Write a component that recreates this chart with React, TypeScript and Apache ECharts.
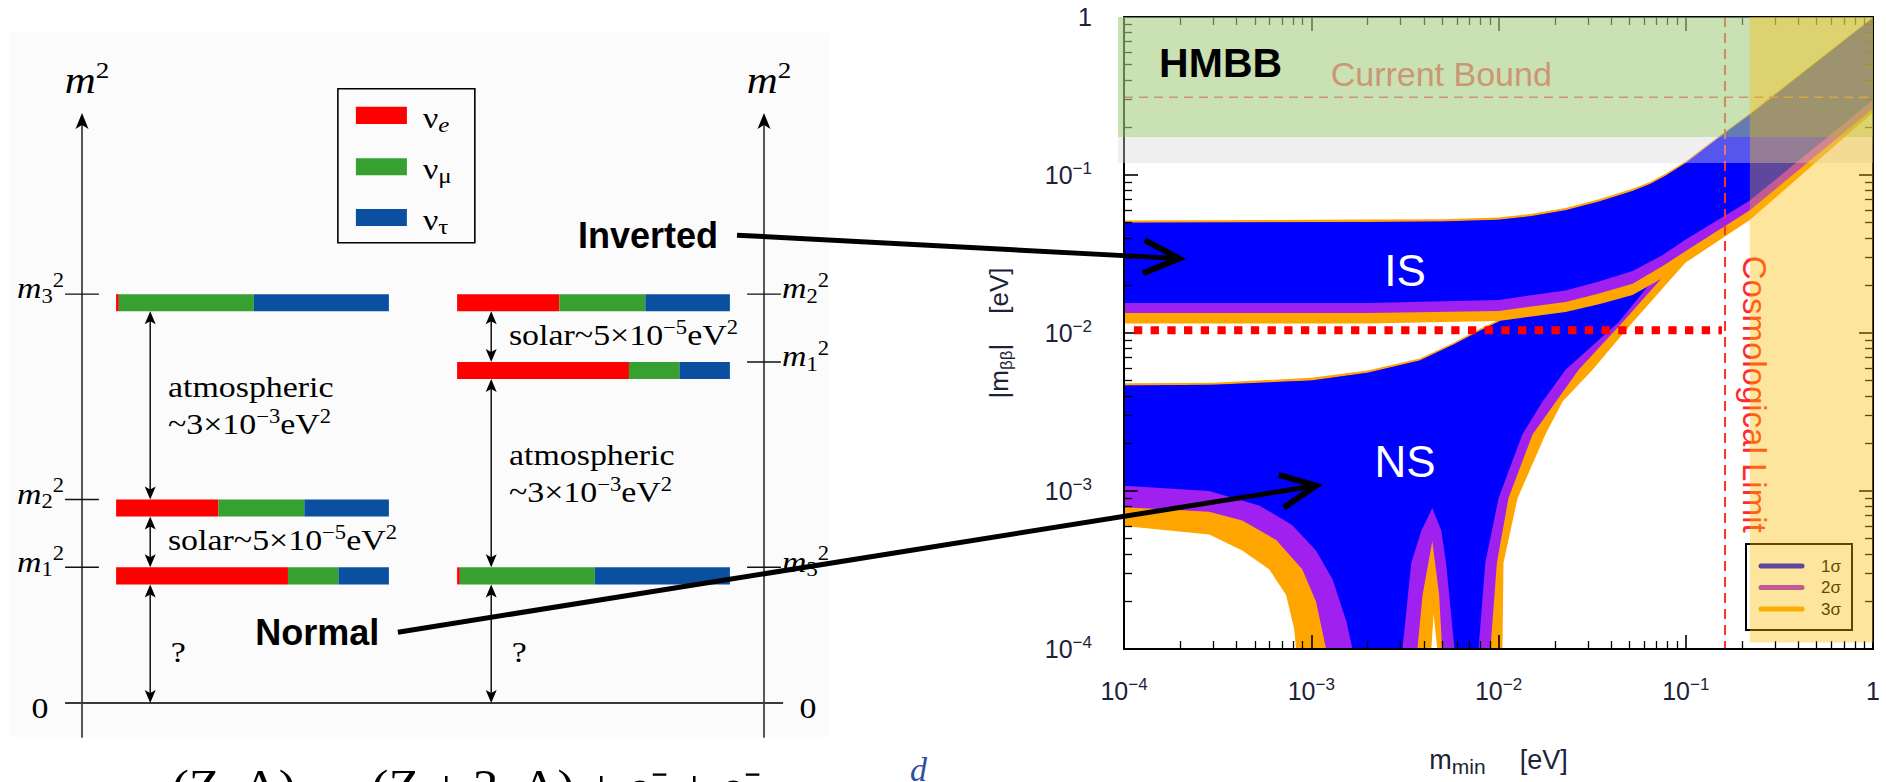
import React, { useEffect, useRef } from 'react';
import * as echarts from 'echarts';

const WIDTH = 1886;
const HEIGHT = 782;
const SANS = "'Liberation Sans', Arial, Helvetica, sans-serif";
const SERIF = "'Liberation Serif', 'Times New Roman', Times, serif";
const AXIS_TEXT = '#1c2238';

// ---------------------------------------------------------------------------
// Right panel: effective Majorana mass |m_ββ| against the lightest mass m_min
// ---------------------------------------------------------------------------
const M_MIN = 1e-4;
const M_MAX = 1;

// Inverted spectrum (IS) band edges, [m_min, |m_ββ|] in eV
const isUpper = [[1e-4, 0.0498], [2e-3, 0.0505], [5e-3, 0.0508], [0.01, 0.052], [0.0151, 0.055], [0.0228, 0.0598], [0.0345, 0.068], [0.052, 0.0793], [0.065, 0.088], [0.078, 0.099], [0.1, 0.119], [0.15, 0.172], [0.22, 0.241], [1, 0.986]];
const isUpper3s = [[1e-4, 0.0515], [2e-3, 0.0522], [5e-3, 0.0525], [0.01, 0.0538], [0.0151, 0.0568], [0.0228, 0.0618], [0.0345, 0.0702], [0.052, 0.0818], [0.065, 0.0905], [0.078, 0.102], [0.1, 0.122], [0.15, 0.176], [0.22, 0.246], [1, 1]];
const isLower1s = [[1e-4, 0.0155], [2e-3, 0.0155], [0.01, 0.0162], [0.0228, 0.0186], [0.0344, 0.0212], [0.052, 0.0247], [0.075, 0.031], [0.1, 0.039], [0.22, 0.069], [1, 0.298]];
const isLower2s = [[1e-4, 0.0134], [2e-3, 0.0134], [0.01, 0.0138], [0.0228, 0.0157], [0.0344, 0.0178], [0.052, 0.0205], [0.075, 0.0265], [0.1, 0.033], [0.22, 0.0598], [1, 0.263]];
const isLower3s = [[1e-4, 0.0115], [2e-3, 0.0115], [0.01, 0.0119], [0.0228, 0.0136], [0.0344, 0.0152], [0.052, 0.0174], [0.075, 0.0222], [0.1, 0.028], [0.22, 0.052], [1, 0.25]];

// Normal spectrum (NS) band edges
const nsUpper = [[1e-4, 0.00465], [3e-4, 0.0047], [1e-3, 0.005], [2e-3, 0.0056], [3.8e-3, 0.0067], [5.8e-3, 0.0085], [7.9e-3, 0.0103], [0.01, 0.0118], [0.02, 0.021], [0.05, 0.05], [0.1, 0.1], [0.22, 0.22], [1, 0.98]];
const nsUpper3s = [[1e-4, 0.0048], [3e-4, 0.00485], [1e-3, 0.0052], [2e-3, 0.0058], [3.8e-3, 0.0069], [5.8e-3, 0.0087], [7.9e-3, 0.0106], [0.01, 0.0121], [0.02, 0.021], [0.05, 0.05], [0.1, 0.1], [0.22, 0.22], [1, 0.98]];
const nsLower1s = [[1e-4, 0.00108], [2.85e-4, 0.001], [5.27e-4, 0.00081], [7.9e-4, 0.00061], [1.06e-3, 0.00042], [1.3e-3, 0.000275], [1.54e-3, 0.00015], [1.66e-3, 1e-4], [3.07e-3, 1e-4], [3.42e-3, 0.00035], [3.87e-3, 0.00056], [4.43e-3, 0.00078], [4.95e-3, 0.00056], [5.25e-3, 0.00035], [5.82e-3, 1e-4], [7.82e-3, 1e-4], [8.5e-3, 0.00035], [0.01, 0.0009], [0.0134, 0.00228], [0.0172, 0.00368], [0.0228, 0.00586], [0.0438, 0.0117], [0.1, 0.039], [0.22, 0.069], [1, 0.298]];
const nsLower2s = [[1e-4, 0.00079], [2.85e-4, 0.00074], [4.28e-4, 0.00065], [6.5e-4, 0.00049], [8.95e-4, 0.00032], [1.06e-3, 0.0002], [1.2e-3, 1e-4], [3.69e-3, 1e-4], [3.93e-3, 0.00022], [4.43e-3, 0.00048], [4.82e-3, 0.00022], [5.0e-3, 1e-4], [9.06e-3, 1e-4], [9.8e-3, 0.00035], [0.0113, 0.0009], [0.0152, 0.00228], [0.0268, 0.00586], [0.046, 0.0117], [0.1, 0.033], [0.22, 0.0598], [1, 0.263]];
const nsLower3s = [[1e-4, 0.0006], [2.85e-4, 0.00053], [4.28e-4, 0.00042], [5.96e-4, 0.00032], [7.34e-4, 0.00022], [8.1e-4, 0.000135], [8.3e-4, 1e-4], [4.38e-3, 1e-4], [4.5e-3, 0.000166], [4.71e-3, 1e-4], [0.0105, 1e-4], [0.01063, 0.00035], [0.01264, 0.0009], [0.0178, 0.00228], [0.022, 0.00368], [0.0318, 0.00586], [0.0521, 0.0117], [0.1, 0.028], [0.22, 0.052], [1, 0.25]];

const sigmaLabels = ['1σ', '2σ', '3σ'];
const SIGMA_COLORS = ['#0000ff', '#a020f0', '#ffa500'];

// limits and guide values (eV)
const hmbbBand = [0.174, 1];
const hmbbEdge = [0.119, 0.174];
const currentBound = 0.31;
const cosmoLimit = 0.162;
const cosmoBandX = [0.22, 1];
const cosmoBandY = [1.1e-4, 1];
const sensitivity = 0.0104;
const sensitivityRange = [1.13e-4, 0.156];

// annotation anchors in data space [m_min, |m_ββ|]
const labelIS = [3.17e-3, 0.025];
const labelNS = [3.17e-3, 1.54e-3];
const labelHMBB = [1.54e-4, 0.51];
const labelBound = [1.27e-3, 0.433];
const labelCosmo = [0.232, 4.1e-3];

// drawing order: 3σ, 2σ, 1σ of the normal spectrum, then the inverted one
const bandLayers = [
  { upper: nsUpper3s, lower: nsLower3s, color: SIGMA_COLORS[2] },
  { upper: nsUpper, lower: nsLower2s, color: SIGMA_COLORS[1] },
  { upper: nsUpper, lower: nsLower1s, color: SIGMA_COLORS[0] },
  { upper: isUpper3s, lower: isLower3s, color: SIGMA_COLORS[2] },
  { upper: isUpper, lower: isLower2s, color: SIGMA_COLORS[1] },
  { upper: isUpper, lower: isLower1s, color: SIGMA_COLORS[0] },
];

// ---------------------------------------------------------------------------
// Left panel: level scheme of the two mass orderings
// ---------------------------------------------------------------------------
const flavourNames = ['e', 'μ', 'τ'];
const flavourItalic = [true, false, false];
const FLAVOUR_COLORS = ['#ff0000', '#36a030', '#0b50a0'];
const nueShare = [0.63, 0.375, 0.01]; // |U_e i|^2 for i = 1, 2, 3
const numuShare = [0.185, 0.315, 0.495];
const nutauShare = [0.185, 0.31, 0.495];
const normalLevels = [2.3, 3.45, 6.93]; // schematic m_i^2 (bar tops)
const invertedLevels = [5.78, 6.93, 2.3];
const BAR_H = 0.29;

// pointers from the ordering names to the bands
const pointers = [
  { from: [2.276, 7.93], to: [1.97e-4, 0.0296] },
  { from: [1.033, 1.2], to: [1.06e-3, 1.08e-3] },
];

const powerOfTen = (v: number) => {
  const e = Math.round(Math.log10(v));
  return e === 0 ? '{n|1}' : `{n|10}{s|−${-e}}`;
};
const tickRich = {
  n: { fontSize: 25, fontFamily: SANS, color: AXIS_TEXT, lineHeight: 30 },
  s: { fontSize: 17, fontFamily: SANS, color: AXIS_TEXT, lineHeight: 17, verticalAlign: 'top' },
};

function logAxis(position: string, withLabels: boolean, extra: any = {}) {
  return {
    type: 'log',
    logBase: 10,
    gridIndex: 0,
    min: M_MIN,
    max: M_MAX,
    splitNumber: 4,
    position,
    z: 3,
    axisLine: { show: true, onZero: false, lineStyle: { color: '#000', width: 2 } },
    axisTick: { show: true, inside: true, length: 14, lineStyle: { color: '#000', width: 1.6 } },
    minorTick: { show: true, splitNumber: 9, length: 8, lineStyle: { color: '#000', width: 1.3 } },
    splitLine: { show: false },
    minorSplitLine: { show: false },
    axisLabel: withLabels
      ? { show: true, formatter: powerOfTen, rich: tickRich, showMinLabel: true, showMaxLabel: true, ...(extra.axisLabel || {}) }
      : { show: false },
    ...(extra.rest || {}),
  };
}

const serifRich = {
  t: { fontSize: 30, fontFamily: SERIF, lineHeight: 34 },
  p: { fontSize: 20, fontFamily: SERIF, lineHeight: 20, verticalAlign: 'top' },
  mi: { fontSize: 30, fontFamily: SERIF, fontStyle: 'italic', lineHeight: 36 },
  sb: { fontSize: 20, fontFamily: SERIF, lineHeight: 20, verticalAlign: 'bottom' },
  sp: { fontSize: 20, fontFamily: SERIF, lineHeight: 20, verticalAlign: 'top' },
  big: { fontSize: 38, fontFamily: SERIF, fontStyle: 'italic', lineHeight: 44 },
  bigp: { fontSize: 24, fontFamily: SERIF, lineHeight: 24, verticalAlign: 'top' },
  nu: { fontSize: 30, fontFamily: SERIF, lineHeight: 36 },
  fl: { fontSize: 22, fontFamily: SERIF, lineHeight: 22, verticalAlign: 'bottom' },
  fli: { fontSize: 22, fontFamily: SERIF, fontStyle: 'italic', lineHeight: 22, verticalAlign: 'bottom' },
};

function serifText(pt: number[], text: string, align: string, dy = 0, extra: any = {}) {
  return {
    type: 'text',
    x: pt[0],
    y: pt[1] + dy,
    scaleX: 1.13,
    style: { text, rich: serifRich, fill: '#000', fontFamily: SERIF, fontSize: 30, align, verticalAlign: 'middle', ...extra },
  };
}

function arrowHead(tip: number[], dir: number[], L: number, W: number, notch: number) {
  const [dx, dy] = dir;
  const px = -dy;
  const py = dx;
  return {
    type: 'polygon',
    shape: {
      points: [
        tip,
        [tip[0] - L * dx + W * px, tip[1] - L * dy + W * py],
        [tip[0] - (L - notch) * dx, tip[1] - (L - notch) * dy],
        [tip[0] - L * dx - W * px, tip[1] - L * dy - W * py],
      ],
    },
    style: { fill: '#000' },
  };
}

function segment(a: number[], b: number[], stroke: string, lineWidth: number, extra: any = {}) {
  return { type: 'line', shape: { x1: a[0], y1: a[1], x2: b[0], y2: b[1] }, style: { stroke, lineWidth, ...extra } };
}

function renderScheme(params: any, api: any) {
  const P = (u: number, v: number) => api.coord([u, v]);
  const kids: any[] = [];
  const bgA = P(-0.389, 11.36);
  const bgB = P(2.613, -0.576);
  kids.push({ type: 'rect', shape: { x: bgA[0], y: bgA[1], width: bgB[0] - bgA[0], height: bgB[1] - bgA[1] }, style: { fill: '#fbfbfb' } });

  // m^2 axes with arrow heads
  [-0.125, 2.375].forEach((u) => {
    const top = P(u, 10);
    const bottom = P(u, -0.59);
    kids.push(segment([top[0], top[1] + 10], bottom, '#111', 1.4));
    kids.push(arrowHead(top, [0, -1], 16, 6.5, 4));
    kids.push(serifText(P(u + 0.018, 10.56), '{big|m}{bigp|2}', 'center'));
  });
  // zero line
  kids.push(segment(P(-0.187, 0), P(2.445, 0), '#3a3a3a', 2));
  kids.push(serifText(P(-0.279, -0.085), '{t|0}', 'center'));
  kids.push(serifText(P(2.536, -0.085), '{t|0}', 'center'));

  const shares = [nueShare, numuShare, nutauShare];
  const orderings = [
    { levels: normalLevels, offset: 0, axisU: -0.125, side: -1 },
    { levels: invertedLevels, offset: 1.25, axisU: 2.375, side: 1 },
  ];
  orderings.forEach((ord) => {
    ord.levels.forEach((lv, i) => {
      let acc = 0;
      shares.forEach((share, f) => {
        const a = P(ord.offset + acc, lv);
        const b = P(ord.offset + acc + share[i], lv - BAR_H);
        kids.push({ type: 'rect', shape: { x: a[0], y: a[1], width: b[0] - a[0], height: b[1] - a[1] }, style: { fill: FLAVOUR_COLORS[f] } });
        acc += share[i];
      });
      // level tick crossing the axis and its label
      kids.push(segment(P(ord.axisU - 0.062, lv), P(ord.axisU + 0.062, lv), '#111', 1.4));
      const lab = `{mi|m}{sb|${i + 1}}{sp|2}`;
      kids.push(serifText(P(ord.axisU + ord.side * 0.066, lv), lab, ord.side < 0 ? 'right' : 'left', -6));
    });

    // splittings between neighbouring levels, and down to zero
    const order = [0, 1, 2].sort((a, b) => ord.levels[b] - ord.levels[a]);
    const arrowX = P(ord.offset + 0.125, 0)[0];
    for (let k = 0; k < 3; k++) {
      const vTop = ord.levels[order[k]] - BAR_H;
      const vBot = k < 2 ? ord.levels[order[k + 1]] : 0;
      const yTop = P(0, vTop)[1];
      const yBot = P(0, vBot)[1];
      kids.push(segment([arrowX, yTop + 6], [arrowX, yBot - 6], '#000', 1.4));
      kids.push(arrowHead([arrowX, yTop], [0, -1], 13, 5.5, 3));
      kids.push(arrowHead([arrowX, yBot], [0, 1], 13, 5.5, 3));
      const mid = (vTop + vBot) / 2;
      const tx = ord.offset + 0.19;
      if (k === 2) {
        kids.push(serifText(P(ord.offset + 0.2, mid - 0.14), '{t|?}', 'left'));
      } else if (order[k] === 2 || order[k + 1] === 2) {
        kids.push(serifText(P(tx, mid + 0.31), '{t|atmospheric}', 'left'));
        kids.push(serifText(P(tx, mid - 0.31), '{t|~3×10}{p|−3}{t|eV}{p|2}', 'left'));
      } else {
        kids.push(serifText(P(tx, mid + 0.04), '{t|solar~5×10}{p|−5}{t|eV}{p|2}', 'left'));
      }
    }
  });

  // flavour legend
  const boxA = P(0.813, 10.41);
  const boxB = P(1.315, 7.8);
  kids.push({ type: 'rect', shape: { x: boxA[0], y: boxA[1], width: boxB[0] - boxA[0], height: boxB[1] - boxA[1] }, style: { fill: 'none', stroke: '#000', lineWidth: 1.6 } });
  [9.96, 9.09, 8.23].forEach((row, f) => {
    const a = P(0.879, row + 0.145);
    const b = P(1.066, row - 0.145);
    kids.push({ type: 'rect', shape: { x: a[0], y: a[1], width: b[0] - a[0], height: b[1] - a[1] }, style: { fill: FLAVOUR_COLORS[f] } });
    const sub = flavourItalic[f] ? 'fli' : 'fl';
    kids.push(serifText(P(1.125, row), `{nu|ν}{${sub}|${flavourNames[f]}}`, 'left', 2, {}));
  });

  // ordering names
  const nPos = P(0.737, 1.2);
  const iPos = P(1.95, 7.93);
  kids.push({ type: 'text', x: nPos[0], y: nPos[1], style: { text: 'Normal', fontFamily: SANS, fontWeight: 'bold', fontSize: 36, fill: '#000', align: 'center', verticalAlign: 'middle' } });
  kids.push({ type: 'text', x: iPos[0], y: iPos[1], style: { text: 'Inverted', fontFamily: SANS, fontWeight: 'bold', fontSize: 36, fill: '#000', align: 'center', verticalAlign: 'middle' } });

  // decay equation running along the lower edge
  const fPos = P(0.205, -1.64);
  kids.push({ type: 'text', x: fPos[0], y: fPos[1] + 10, scaleX: 1.1, style: { text: '(Z, A) → (Z + 2, A) + e⁻ + e⁻', fontFamily: SERIF, fontSize: 46, fill: '#000', align: 'left', verticalAlign: 'bottom' } });
  const dPos = P(2.91, -1.3);
  kids.push({ type: 'text', x: dPos[0], y: dPos[1] + 7, style: { text: 'd', fontFamily: SERIF, fontStyle: 'italic', fontSize: 34, fill: '#2f4fa0', align: 'left', verticalAlign: 'bottom' } });

  return { type: 'group', children: kids };
}

function renderBand(params: any, api: any) {
  const layer = bandLayers[params.dataIndex];
  const pts = layer.upper.concat(layer.lower.slice().reverse()).map((p) => api.coord(p));
  return { type: 'polygon', shape: { points: pts }, style: { fill: layer.color } };
}

function renderGuides(params: any, api: any) {
  const c = (x: number, y: number) => api.coord([x, y]);
  const kids: any[] = [];
  kids.push(segment(c(M_MIN, currentBound), c(M_MAX, currentBound), '#ff4460', 1.5, { lineDash: [9, 6] }));
  kids.push(segment(c(cosmoLimit, M_MAX), c(cosmoLimit, M_MIN), '#ff3030', 2, { lineDash: [10, 6] }));
  const b = c(labelBound[0], labelBound[1]);
  kids.push({ type: 'text', x: b[0], y: b[1], style: { text: 'Current Bound', fontFamily: SANS, fontSize: 34, fill: '#ff4460', align: 'left', verticalAlign: 'middle' } });
  const k = c(labelCosmo[0], labelCosmo[1]);
  kids.push({ type: 'text', x: k[0], y: k[1], rotation: -Math.PI / 2, style: { text: 'Cosmological Limit', fontFamily: SANS, fontSize: 33, fill: '#ff2a2a', align: 'center', verticalAlign: 'middle' } });
  // confidence-level key
  const corner = c(M_MAX, M_MIN);
  const bx = corner[0];
  const by = corner[1];
  kids.push({ type: 'rect', shape: { x: bx - 127, y: by - 105, width: 106, height: 86 }, style: { fill: 'none', stroke: '#000', lineWidth: 2 } });
  sigmaLabels.forEach((lab, i) => {
    const yy = by - 83 + i * 21.5;
    kids.push(segment([bx - 112, yy], [bx - 71, yy], SIGMA_COLORS[i], 5, { lineCap: 'round' }));
    kids.push({ type: 'text', x: bx - 52, y: yy, style: { text: lab, fontFamily: SANS, fontSize: 17, fill: '#000', align: 'left', verticalAlign: 'middle' } });
  });
  return { type: 'group', children: kids };
}

function rectBetween(api: any, x0: number, x1: number, y0: number, y1: number, fill: string, padLeft = 0) {
  const a = api.coord([x0, y1]);
  const b = api.coord([x1, y0]);
  return { type: 'rect', shape: { x: a[0] - padLeft, y: a[1], width: b[0] - a[0] + padLeft, height: b[1] - a[1] }, style: { fill } };
}

function renderBoundShade(params: any, api: any) {
  return {
    type: 'group',
    children: [
      rectBetween(api, M_MIN, M_MAX, hmbbBand[0], hmbbBand[1], 'rgba(167,205,128,0.6)', 6),
      rectBetween(api, M_MIN, M_MAX, hmbbEdge[0], hmbbEdge[1], 'rgba(215,215,215,0.4)', 6),
    ],
  };
}

function renderCosmoShade(params: any, api: any) {
  return rectBetween(api, cosmoBandX[0], cosmoBandX[1], cosmoBandY[0], cosmoBandY[1], 'rgba(250,187,0,0.38)');
}

function renderTopLayer(params: any, api: any) {
  const c = (x: number, y: number) => api.coord([x, y]);
  const kids: any[] = [];
  kids.push(segment(c(sensitivityRange[0], sensitivity), c(sensitivityRange[1], sensitivity), '#ff0000', 8, { lineDash: [8.3, 8.4] }));
  const h = c(labelHMBB[0], labelHMBB[1]);
  kids.push({ type: 'text', x: h[0], y: h[1], style: { text: 'HMBB', fontFamily: SANS, fontWeight: 'bold', fontSize: 41, fill: '#000', align: 'left', verticalAlign: 'middle' } });
  const i = c(labelIS[0], labelIS[1]);
  kids.push({ type: 'text', x: i[0], y: i[1], style: { text: 'IS', fontFamily: SANS, fontSize: 44, fill: '#ffffff', align: 'center', verticalAlign: 'middle' } });
  const n = c(labelNS[0], labelNS[1]);
  kids.push({ type: 'text', x: n[0], y: n[1], style: { text: 'NS', fontFamily: SANS, fontSize: 44, fill: '#ffffff', align: 'center', verticalAlign: 'middle' } });
  return { type: 'group', children: kids };
}

function customOnPlot(renderItem: any, z: number, count = 1) {
  return {
    type: 'custom',
    coordinateSystem: 'cartesian2d',
    xAxisIndex: 0,
    yAxisIndex: 0,
    z,
    silent: true,
    encode: { x: 0, y: 1 },
    data: Array.from({ length: count }, (_, i) => [1e-2, 1e-2, i]),
    renderItem,
  };
}

function buildOption() {
  return {
    animation: false,
    backgroundColor: '#ffffff',
    grid: [
      { left: 1124, top: 17, width: 749, height: 654 },
      { left: 82, top: 113, width: 682, height: 590 },
    ],
    xAxis: [
      logAxis('bottom', true, {
        axisLabel: { margin: 27 },
        rest: {
          name: '{m|m}{s|min}{b|[eV]}',
          nameLocation: 'middle',
          nameGap: 94,
          nameTextStyle: {
            rich: {
              m: { fontSize: 27, fontFamily: SANS, color: AXIS_TEXT, lineHeight: 34 },
              s: { fontSize: 21, fontFamily: SANS, color: AXIS_TEXT, lineHeight: 22, verticalAlign: 'bottom' },
              b: { fontSize: 27, fontFamily: SANS, color: AXIS_TEXT, lineHeight: 34, padding: [0, 0, 0, 34] },
            },
          },
        },
      }),
      logAxis('top', false),
      { gridIndex: 1, type: 'value', min: -0.125, max: 2.375, show: false },
    ],
    yAxis: [
      logAxis('left', true, {
        axisLabel: { margin: 32 },
        rest: {
          name: '{a||m}{s|ββ}{a||}{b|[eV]}',
          nameLocation: 'middle',
          nameGap: 109,
          nameRotate: 90,
          nameTextStyle: {
            rich: {
              a: { fontSize: 26, fontFamily: SANS, color: AXIS_TEXT, lineHeight: 32 },
              s: { fontSize: 17, fontFamily: SANS, color: AXIS_TEXT, lineHeight: 18, verticalAlign: 'bottom' },
              b: { fontSize: 26, fontFamily: SANS, color: AXIS_TEXT, lineHeight: 32, padding: [0, 0, 0, 30] },
            },
          },
        },
      }),
      logAxis('right', false),
      { gridIndex: 1, type: 'value', min: 0, max: 10, show: false },
    ],
    series: [
      customOnPlot(renderBand, 1, bandLayers.length),
      customOnPlot(renderGuides, 2),
      customOnPlot(renderBoundShade, 5),
      customOnPlot(renderCosmoShade, 6),
      customOnPlot(renderTopLayer, 8),
      {
        type: 'custom',
        coordinateSystem: 'cartesian2d',
        xAxisIndex: 2,
        yAxisIndex: 2,
        z: 2,
        silent: true,
        encode: { x: 0, y: 1 },
        data: [[1, 5]],
        renderItem: renderScheme,
      },
    ],
  };
}

function pointerArrow(from: number[], to: number[]) {
  const dx = to[0] - from[0];
  const dy = to[1] - from[1];
  const len = Math.hypot(dx, dy);
  const back = Math.atan2(-dy / len, -dx / len);
  const arm = (a: number) => [to[0] + 39 * Math.cos(back + a), to[1] + 39 * Math.sin(back + a)];
  return [
    { type: 'line', z: 100, shape: { x1: from[0], y1: from[1], x2: to[0] - 3 * dx / len, y2: to[1] - 3 * dy / len }, style: { stroke: '#000', lineWidth: 5 } },
    { type: 'polyline', z: 100, shape: { points: [arm(0.44), to, arm(-0.44)] }, style: { stroke: '#000', lineWidth: 6, fill: null, lineJoin: 'miter' } },
  ];
}

export default function App() {
  const ref = useRef<HTMLDivElement | null>(null);
  useEffect(() => {
    if (!ref.current) return;
    const chart = echarts.init(ref.current, null, { renderer: 'svg' });
    chart.setOption(buildOption() as any);
    const toPlot = (p: number[]) => chart.convertToPixel({ xAxisIndex: 0, yAxisIndex: 0 } as any, p) as number[];
    const toScheme = (p: number[]) => chart.convertToPixel({ xAxisIndex: 2, yAxisIndex: 2 } as any, p) as number[];
    const elements: any[] = [];
    pointers.forEach((pt) => elements.push(...pointerArrow(toScheme(pt.from), toPlot(pt.to))));
    chart.setOption({ graphic: { elements } } as any);
    return () => chart.dispose();
  }, []);
  return <div ref={ref} style={{ position: 'fixed', left: 0, top: 0, width: WIDTH, height: HEIGHT, background: '#fff' }} />;
}
